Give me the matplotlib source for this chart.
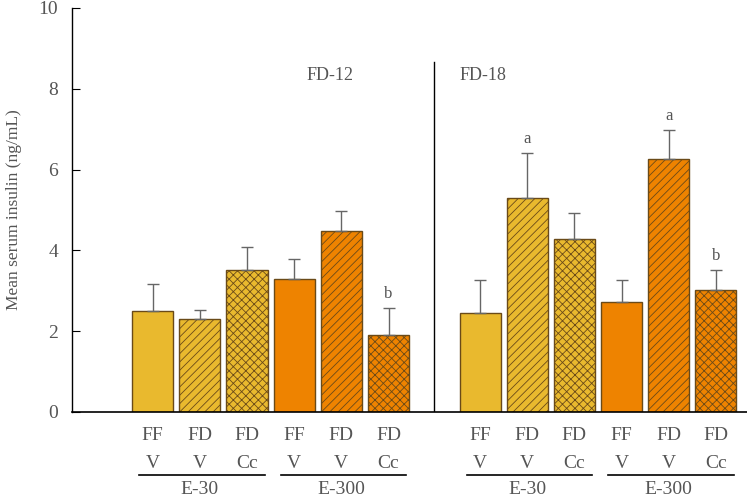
import matplotlib
matplotlib.use("Agg")
import matplotlib.pyplot as plt
import matplotlib.transforms as mtrans
from matplotlib.lines import Line2D

plt.rcParams['font.family'] = ['Liberation Serif', 'DejaVu Serif']
plt.rcParams['hatch.linewidth'] = 0.6

# Data
panels = ["FD-12", "FD-18"]
diet = ["FF", "FD", "FD", "FF", "FD", "FD"]
treat = ["V", "V", "Cc", "V", "V", "Cc"]
groups = ["E-30", "E-300"]
fd12_mean = [2.49, 2.31, 3.52, 3.28, 4.47, 1.91]
fd12_err = [0.69, 0.21, 0.57, 0.50, 0.50, 0.66]
fd18_mean = [2.44, 5.29, 4.27, 2.72, 6.25, 3.02]
fd18_err = [0.83, 1.11, 0.66, 0.54, 0.72, 0.50]
fd12_sig = ["", "", "", "", "", "b"]
fd18_sig = ["", "a", "", "", "a", "b"]

yellow = "#E9B92E"
orange = "#EE8300"
edge = "#6A4A18"
txt = "#555555"
colors = [yellow, yellow, yellow, orange, orange, orange]
hatches = [None, "////", "xxxx", None, "////", "xxxx"]

W, H = 747, 496
fig = plt.figure(figsize=(W/100, H/100), dpi=100)
ax = fig.add_axes([72/W, (H-412)/H, (W-72)/W, (412-8)/H])
tr = mtrans.blended_transform_factory(ax.transData, fig.transFigure)

offsets = [0.0, 6.94]
width = 0.87
for off, means, errs, sigs in zip(offsets, [fd12_mean, fd18_mean], [fd12_err, fd18_err], [fd12_sig, fd18_sig]):
    xs = [off + i for i in range(6)]
    for x, m, e, c, h, s in zip(xs, means, errs, colors, hatches, sigs):
        ax.bar(x, m, width=width, color=c, edgecolor=edge, linewidth=1.0, hatch=h, zorder=2)
        ax.errorbar(x, m, yerr=[[0], [e]], fmt='none', ecolor='#666666', elinewidth=1.0,
                    capsize=4, capthick=1.0, zorder=3)
        if s:
            ax.text(x, m + e + 0.15, s, ha='center', va='bottom', fontsize=12, color=txt)
    for x, d, t in zip(xs, diet, treat):
        ax.text(x, (H-436)/H, d, transform=tr, ha='center', va='center', fontsize=14, color=txt)
        ax.text(x, (H-463)/H, t, transform=tr, ha='center', va='center', fontsize=14, color=txt)
    for g, gi in zip(groups, [0, 3]):
        x0 = xs[gi] - 0.28
        x1 = xs[gi + 2] + 0.38
        fig.add_artist(Line2D([x0, x1], [(H-475)/H, (H-475)/H], transform=tr, color='black', lw=1.2))
        ax.text(xs[gi + 1], (H-489)/H, g, transform=tr, ha='center', va='center', fontsize=14, color=txt)

ax.axvline(5.97, ymin=0, ymax=(412-62)/404, color='black', lw=1.0)
ax.text(3.76, 8.34, panels[0], ha='center', va='center', fontsize=13, color=txt)
ax.text(6.51, 8.34, panels[1], ha='left', va='center', fontsize=13, color=txt)

ax.set_xlim(-1.71, 12.6)
ax.set_ylim(0, 10)
ax.set_yticks([0, 2, 4, 6, 8, 10])
ax.set_xticks([])
ax.tick_params(axis='y', direction='in', length=6, labelsize=14, labelcolor=txt, pad=10)
for sp in ['top', 'right']:
    ax.spines[sp].set_visible(False)
ax.spines['left'].set_linewidth(1.0)
ax.spines['bottom'].set_linewidth(1.2)
ax.set_ylabel("Mean serum insulin (ng/mL)", fontsize=12.5, color=txt, labelpad=12)

fig.savefig("out.png", dpi=100)
